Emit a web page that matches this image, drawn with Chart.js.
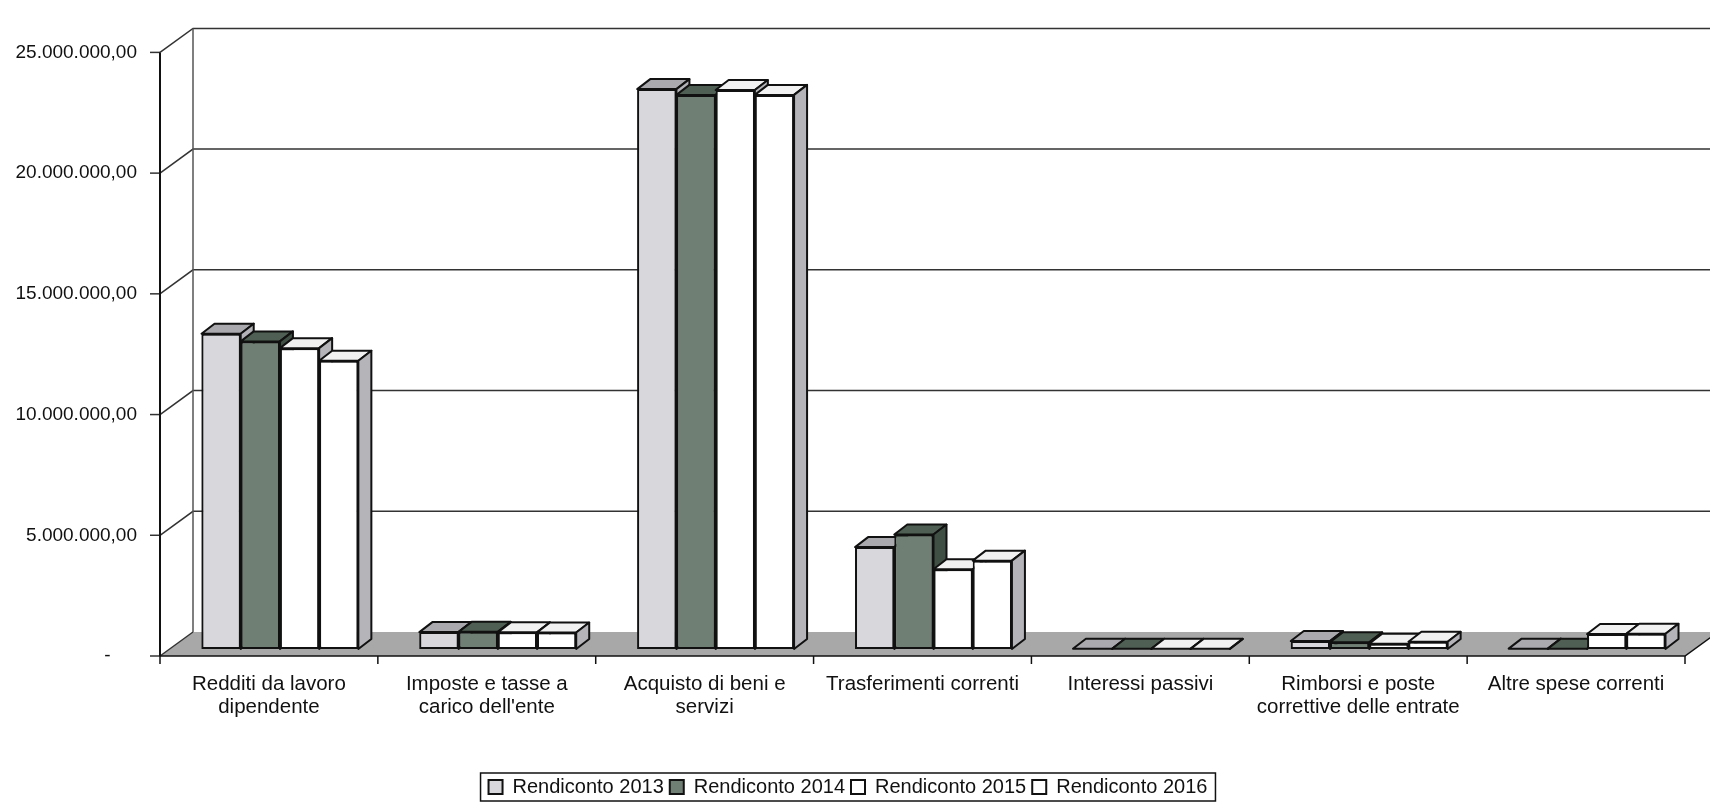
<!DOCTYPE html>
<html lang="it">
<head>
<meta charset="utf-8">
<title>Spese correnti per intervento</title>
<script src="https://cdn.jsdelivr.net/npm/chart.js@4.4.1/dist/chart.umd.min.js"></script>
<style>
  html, body { margin: 0; padding: 0; background: #fff; }
  #wrap { width: 1710px; height: 807px; position: relative; }
</style>
</head>
<body>
<div id="wrap"><canvas id="chart-spese"></canvas></div>
<script>
// Voci di spesa (asse x)
const categories = [
  ['Redditi da lavoro', 'dipendente'],
  ['Imposte e tasse a', "carico dell'ente"],
  ['Acquisto di beni e', 'servizi'],
  ['Trasferimenti correnti'],
  ['Interessi passivi'],
  ['Rimborsi e poste', 'correttive delle entrate'],
  ['Altre spese correnti'],
];

const seriesNames = ['Rendiconto 2013', 'Rendiconto 2014', 'Rendiconto 2015', 'Rendiconto 2016'];

// Importi in euro
const rendiconto2013 = [13060000, 700000, 23190000, 4220000, 12000, 330000, 15000];
const rendiconto2014 = [12740000, 710000, 22950000, 4740000, 10000, 280000, 12000];
const rendiconto2015 = [12460000, 690000, 23150000, 3300000, 8000, 220000, 620000];
const rendiconto2016 = [11940000, 680000, 22950000, 3660000, 6000, 300000, 630000];

const yTicks = [0, 5000000, 10000000, 15000000, 20000000, 25000000];

// Colori: facciata, tetto, fianco
const frontColors = ['#d7d7dc', '#6f7f73', '#ffffff', '#ffffff'];
const topColors   = ['#a9a9ae', '#4f5f53', '#f1f1f1', '#f1f1f1'];
const sideColors  = ['#b3b3b8', '#3f4f44', '#b4b4b9', '#b4b4b9'];

const FONT = 'Arial, "Liberation Sans", Helvetica, sans-serif';

// effetto 3D: profondità colonne e piani davanti/dietro
const DEPTH_X = 13, DEPTH_Y = 10;
const FRONT = { dx: -11, dy: 7 };
const BACK = { dx: 22, dy: -17 };

function fmtEuro(v) {
  if (v === 0) return '-     ';
  return Math.round(v).toString().replace(/\B(?=(\d{3})+(?!\d))/g, '.') + ',00';
}

function poly(ctx, pts, fill) {
  ctx.beginPath();
  ctx.moveTo(pts[0][0], pts[0][1]);
  for (let i = 1; i < pts.length; i++) ctx.lineTo(pts[i][0], pts[i][1]);
  ctx.closePath();
  ctx.fillStyle = fill;
  ctx.fill();
  ctx.stroke();
}

const box3d = {
  id: 'box3d',
  beforeDatasetsDraw(chart) {
    const { ctx, chartArea: a, scales: { x, y } } = chart;
    const L = a.left, R = a.right;
    const y0 = y.getPixelForValue(0);
    const yTop = y.getPixelForValue(y.max);
    ctx.save();

    // pavimento
    ctx.fillStyle = '#a8a8a8';
    ctx.beginPath();
    ctx.moveTo(L + FRONT.dx, y0 + FRONT.dy);
    ctx.lineTo(R + FRONT.dx, y0 + FRONT.dy);
    ctx.lineTo(R + BACK.dx, y0 + BACK.dy);
    ctx.lineTo(L + BACK.dx, y0 + BACK.dy);
    ctx.closePath();
    ctx.fill();

    // griglia sulla parete di fondo + diagonali sul fianco
    ctx.strokeStyle = '#333';
    ctx.lineWidth = 1.5;
    yTicks.forEach(v => {
      const py = y.getPixelForValue(v);
      ctx.beginPath();
      ctx.moveTo(L + FRONT.dx, py + FRONT.dy);
      ctx.lineTo(L + BACK.dx, py + BACK.dy);
      if (v > 0) ctx.lineTo(R + BACK.dx, py + BACK.dy);
      ctx.stroke();
      ctx.beginPath();
      ctx.moveTo(L + FRONT.dx - 10, py + FRONT.dy);
      ctx.lineTo(L + FRONT.dx, py + FRONT.dy);
      ctx.stroke();
    });
    ctx.strokeStyle = '#555';
    ctx.beginPath();
    ctx.moveTo(L + BACK.dx, yTop + BACK.dy);
    ctx.lineTo(L + BACK.dx, y0 + BACK.dy);
    ctx.stroke();

    // asse y anteriore
    ctx.strokeStyle = '#111';
    ctx.lineWidth = 2;
    ctx.beginPath();
    ctx.moveTo(L + FRONT.dx, yTop + FRONT.dy);
    ctx.lineTo(L + FRONT.dx, y0 + FRONT.dy);
    ctx.stroke();

    // asse x con tacche tra le categorie
    ctx.lineWidth = 1.5;
    ctx.beginPath();
    ctx.moveTo(L + FRONT.dx, y0 + FRONT.dy);
    ctx.lineTo(R + FRONT.dx, y0 + FRONT.dy);
    ctx.lineTo(R + BACK.dx, y0 + BACK.dy);
    ctx.stroke();
    const half = (x.getPixelForValue(1) - x.getPixelForValue(0)) / 2;
    for (let i = 0; i <= categories.length; i++) {
      const px = (i < categories.length ? x.getPixelForValue(i) - half : x.getPixelForValue(i - 1) + half) + FRONT.dx;
      ctx.beginPath();
      ctx.moveTo(px, y0 + FRONT.dy);
      ctx.lineTo(px, y0 + FRONT.dy + 8);
      ctx.stroke();
    }
    ctx.restore();
  },
  afterDatasetsDraw(chart) {
    const { ctx } = chart;
    const metas = chart.data.datasets.map((d, i) => chart.getDatasetMeta(i));
    ctx.save();
    ctx.lineWidth = 2;
    ctx.lineJoin = 'round';
    ctx.strokeStyle = '#111';
    // da sinistra a destra: ogni colonna copre il fianco della precedente
    for (let c = 0; c < categories.length; c++) {
      metas.forEach((m, s) => {
        const el = m.data[c];
        el.draw(ctx);
        const { x, y, base, width } = el.getProps(['x', 'y', 'base', 'width'], true);
        const l = x - width / 2, r = x + width / 2, t = Math.min(y, base);
        poly(ctx, [[l, t], [r, t], [r + DEPTH_X, t - DEPTH_Y], [l + DEPTH_X, t - DEPTH_Y]], topColors[s]);
        poly(ctx, [[r, t], [r + DEPTH_X, t - DEPTH_Y], [r + DEPTH_X, base - DEPTH_Y], [r, base]], sideColors[s]);
      });
    }
    ctx.restore();
  },
  afterDraw(chart) {
    // cornice della legenda
    const boxes = chart.legend && chart.legend.legendHitBoxes;
    if (!boxes || !boxes.length) return;
    const first = boxes[0], last = boxes[boxes.length - 1];
    const { ctx } = chart;
    ctx.save();
    ctx.strokeStyle = '#111';
    ctx.lineWidth = 1.5;
    ctx.strokeRect(first.left - 8, first.top - 4, last.left + last.width + 8 - (first.left - 8), first.height + 8);
    ctx.restore();
  },
};

const seriesData = [rendiconto2013, rendiconto2014, rendiconto2015, rendiconto2016];

new Chart(document.getElementById('chart-spese'), {
  type: 'bar',
  data: {
    labels: categories,
    datasets: seriesNames.map((name, i) => ({
      label: name,
      data: seriesData[i],
      backgroundColor: frontColors[i],
      borderColor: '#111',
      borderWidth: 2,
      borderSkipped: false,
      categoryPercentage: 0.72,
      barPercentage: 1.0,
    })),
  },
  options: {
    responsive: true,
    maintainAspectRatio: false,
    animation: false,
    events: [],
    layout: { padding: { top: 27, right: 14, left: 0, bottom: 0 } },
    plugins: {
      tooltip: { enabled: false },
      legend: {
        position: 'bottom',
        labels: {
          color: '#111',
          font: { family: FONT, size: 20 },
          boxWidth: 14,
          boxHeight: 14,
          padding: 6,
        },
      },
    },
    scales: {
      x: {
        grid: { display: false, drawTicks: false },
        border: { display: false },
        afterFit: s => { s.height = 122; },
        ticks: {
          autoSkip: false,
          maxRotation: 0,
          minRotation: 0,
          padding: 24,
          labelOffset: FRONT.dx,
          color: '#111',
          font: { family: FONT, size: 20.5, lineHeight: 1.12 },
        },
      },
      y: {
        min: 0,
        max: 25000000,
        grid: { display: false, drawTicks: false },
        border: { display: false },
        afterFit: s => { s.width = 171; },
        afterBuildTicks: s => { s.ticks = yTicks.map(v => ({ value: v })); },
        ticks: {
          padding: 34,
          labelOffset: FRONT.dy,
          color: '#111',
          font: { family: FONT, size: 19 },
          callback: v => fmtEuro(v),
        },
      },
    },
  },
  plugins: [box3d],
});
</script>
</body>
</html>
